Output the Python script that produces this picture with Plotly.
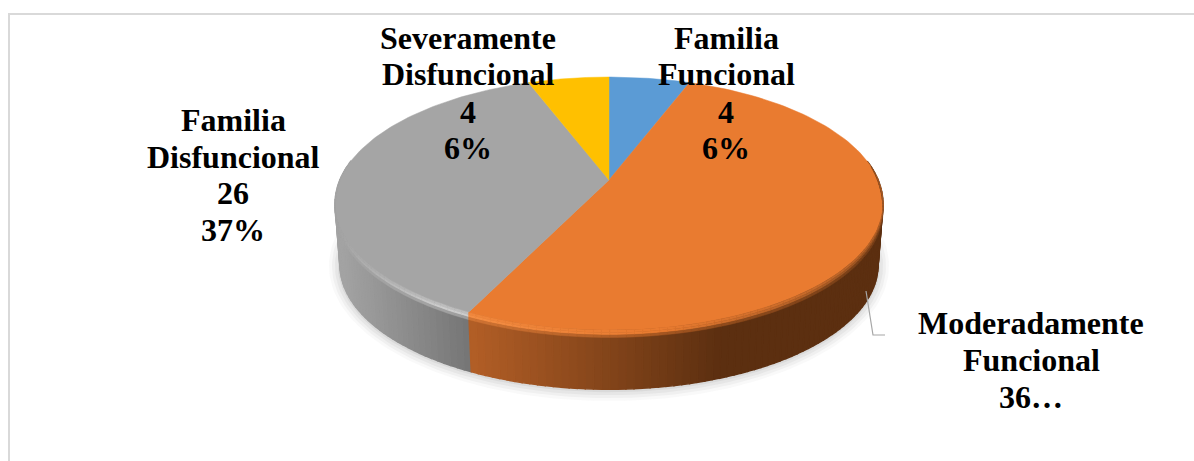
import numpy as np
import plotly.graph_objects as go

categories = ["Familia Funcional", "Moderadamente Funcional", "Familia Disfuncional", "Severamente Disfuncional"]
values = [4, 36, 26, 4]
label_lines = [["Familia", "Funcional"], ["Moderadamente", "Funcional"], ["Familia", "Disfuncional"], ["Severamente", "Disfuncional"]]
top_colors = ["#5B9BD5", "#E97B30", "#A5A5A5", "#FFC000"]

W, H = 1194, 461
APEX = (609.0, 180.0)
A, B, K = 269.2, 122.1, 0.1858
DEPTH = 62.0
BOTTOM_SCALE = 0.982


def proj(theta, r=1.0, scale=1.0, dy=0.0):
    u = r * np.sin(theta)
    v = -r * np.cos(theta)
    d = 1 - K * v
    return APEX[0] + scale * A * u / d, APEX[1] + dy + scale * B * v / d


def mix(c1, c2, t):
    t = float(np.clip(t, 0, 1))
    return tuple(a + (b - a) * t for a, b in zip(c1, c2))


def css(c):
    return "rgb(%d,%d,%d)" % tuple(round(v) for v in c)


def poly(fig, x, y, color, opacity=1.0, lw=1.4):
    fig.add_trace(go.Scatter(x=list(x), y=list(y), mode="lines", fill="toself", fillcolor=color,
                             line=dict(width=lw if opacity == 1.0 else 0, color=color),
                             opacity=opacity, hoverinfo="skip", showlegend=False))


fractions = np.cumsum([0] + values) / sum(values)
angles = fractions * 2 * np.pi

fig = go.Figure()

# frame
fig.add_trace(go.Scatter(x=[9, 9, 1194], y=[461, 14, 14], mode="lines",
                         line=dict(color="#d9d9d9", width=2), hoverinfo="skip", showlegend=False))

# soft shadow below the pie
ring = np.linspace(0, 2 * np.pi, 240)
for grow, op in [(11, 0.05), (8, 0.07), (5, 0.09), (2, 0.12)]:
    sx, sy = proj(ring, 1.0, BOTTOM_SCALE, DEPTH)
    cx, cy = APEX[0], APEX[1] + DEPTH + 25
    sx2 = cx + (sx - cx) * (1 + grow / 270)
    sy2 = cy + (sy - cy) * (1 + grow / 125)
    poly(fig, sx2, sy2 + 1, "#808080", op)


def wall_rgb(i, x):
    if i == 2:  # grey
        return mix((163, 163, 163), (116, 116, 116), (x - 340) / 132)
    return mix((178, 94, 38), (92, 47, 16), (x - 470) / 250)  # orange


N_STRIPS = {2: 90, 1: 130}
for i in (2, 1):
    ts = np.linspace(angles[i], angles[i + 1], N_STRIPS[i])
    for t0, t1 in zip(ts[:-1], ts[1:]):
        if np.cos((t0 + t1) / 2) > 0.15:
            continue
        x0, y0 = proj(t0)
        x1, y1 = proj(t1)
        x2, y2 = proj(t1, 1.0, BOTTOM_SCALE, DEPTH)
        x3, y3 = proj(t0, 1.0, BOTTOM_SCALE, DEPTH)
        poly(fig, [x0, x1, x2, x3, x0], [y0, y1, y2, y3, y0], css(wall_rgb(i, (x0 + x1) / 2)))

# top faces
apex_x, apex_y = APEX
for i, col in enumerate(top_colors):
    ts = np.linspace(angles[i], angles[i + 1], 120)
    ex, ey = proj(ts)
    poly(fig, np.r_[apex_x, ex, apex_x], np.r_[apex_y, ey, apex_y], col, lw=0.5)


# bevelled rim on the front edge: bands from the top colour into the wall colour
def rim_rgb(i, x, band):
    if i == 2:
        hi = mix((165, 165, 165), (205, 205, 205), (x - 340) / 100)
        face = (165, 165, 165)
    else:
        p = (x - 470) / 410
        hi = mix((244, 142, 68), (233, 123, 48), p / 0.45) if p < 0.45 else mix((233, 123, 48), (150, 82, 34), (p - 0.45) / 0.55)
        face = (233, 123, 48)
    return [mix(face, hi, 0.6), hi, mix(hi, wall_rgb(i, x), 0.55)][band]


BANDS = [(0.0, 2.5), (2.5, 5.0), (5.0, 7.5)]
for i in (2, 1):
    ts = np.linspace(angles[i], angles[i + 1], N_STRIPS[i])
    for t0, t1 in zip(ts[:-1], ts[1:]):
        if np.cos((t0 + t1) / 2) > 0.1:
            continue
        f0 = min(1.0, (0.1 - np.cos(t0)) / 0.3)
        f1 = min(1.0, (0.1 - np.cos(t1)) / 0.3)
        x_mid = (proj(t0)[0] + proj(t1)[0]) / 2
        for b, (d0, d1) in enumerate(BANDS):
            x0, y0 = proj(t0, 1.0, 1.0, d0 * f0)
            x1, y1 = proj(t1, 1.0, 1.0, d0 * f1)
            x2, y2 = proj(t1, 1.0, 1.0, d1 * f1)
            x3, y3 = proj(t0, 1.0, 1.0, d1 * f0)
            poly(fig, [x0, x1, x2, x3, x0], [y0, y1, y2, y3, y0], css(rim_rgb(i, x_mid, b)), lw=0.4)

# leader line
fig.add_trace(go.Scatter(x=[866, 873, 885], y=[291, 335, 335], mode="lines",
                         line=dict(color="#a6a6a6", width=1.2), hoverinfo="skip", showlegend=False))

# data labels, one annotation per line so the spacing stays tight
percents = [round(100 * v / sum(values)) for v in values]
label_x = [726, 1031, 233, 468]
label_y = [[38, 74, 112, 148], [323, 360, 397], [120, 157, 193, 230], [38, 74, 112, 148]]
for i, lines in enumerate(label_lines):
    rows = lines + ([f"{values[i]}…"] if i == 1 else [str(values[i]), f"{percents[i]}%"])
    for row, ly in zip(rows, label_y[i]):
        fig.add_annotation(x=label_x[i], y=ly, text=f"<b>{row}</b>", showarrow=False, xanchor="center",
                           yanchor="middle", align="center",
                           font=dict(family="Liberation Serif", size=32, color="#000000"), xref="x", yref="y")

fig.update_layout(width=W, height=H, margin=dict(l=0, r=0, t=0, b=0), paper_bgcolor="white", plot_bgcolor="white",
                  showlegend=False,
                  xaxis=dict(range=[0, W], visible=False, fixedrange=True),
                  yaxis=dict(range=[H, 0], visible=False, fixedrange=True))
fig.write_html("out.html", config={"displayModeBar": False},
               post_script="document.body.style.margin='0';document.body.style.overflow='hidden';")
